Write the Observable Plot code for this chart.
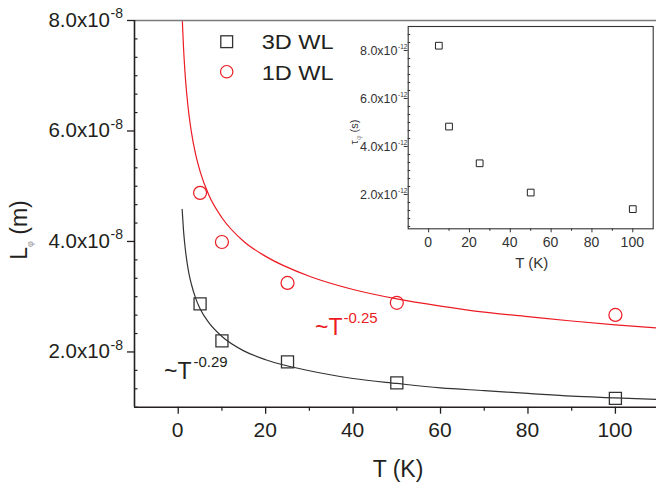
<!DOCTYPE html>
<html><head><meta charset="utf-8">
<script src="https://cdn.jsdelivr.net/npm/d3@7"></script>
<script src="https://cdn.jsdelivr.net/npm/@observablehq/plot@0.6"></script>
<style>
body{margin:0;background:#fff}
#chart{position:relative;width:656px;height:485px;font-family:"Liberation Sans",Arial,sans-serif}
#chart svg{display:block}
</style>
</head><body><div id="chart"></div>
<script>
// ---- data ----
const temps = [5, 10, 25, 50, 100];                         // T (K)
const lphi3D = [2.87e-8, 2.20e-8, 1.82e-8, 1.44e-8, 1.16e-8]; // 3D WL, L_phi (m)
const lphi1D = [4.88e-8, 3.99e-8, 3.25e-8, 2.89e-8, 2.67e-8]; // 1D WL, L_phi (m)
const tauPhi = [8.2e-12, 4.83e-12, 3.30e-12, 2.08e-12, 1.39e-12]; // inset tau_phi (s)

// fitted curves
const fitT3D = [0.9, 1.2, 1.5, 2, 2.5, 3, 4, 5, 7, 10, 15, 20, 30, 40, 50, 60, 70, 80, 90, 100, 110];
const fitL3D = [4.58, 4.21, 3.95, 3.63, 3.40, 3.23, 2.97, 2.78, 2.53, 2.28, 2.02, 1.86, 1.66, 1.52, 1.43, 1.35, 1.30, 1.25, 1.20, 1.17, 1.14].map(v => v * 1e-8);
const fitT1D = [0.95, 1.2, 1.5, 2, 2.5, 3, 4, 5, 7, 10, 15, 20, 30, 40, 50, 60, 70, 80, 90, 100, 110];
const fitL1D = [7.98, 7.53, 7.12, 6.63, 6.27, 5.99, 5.57, 5.27, 4.84, 4.43, 4.00, 3.73, 3.37, 3.13, 2.96, 2.83, 2.72, 2.64, 2.56, 2.49, 2.43].map(v => v * 1e-8);

// ticks and labels
const xMajor = [0, 20, 40, 60, 80, 100];
const xMinor = [10, 30, 50, 70, 90];
const xTickText = ["0", "20", "40", "60", "80", "100"];
const yMajor = [2e-8, 4e-8, 6e-8, 8e-8];
const yTickText = ["2.0x10", "4.0x10", "6.0x10", "8.0x10"];
const yExp = "-8";
const iyMajor = [2e-12, 4e-12, 6e-12, 8e-12];
const iyTickText = ["2.0x10", "4.0x10", "6.0x10", "8.0x10"];
const iyExp = "-12";
const seriesNames = ["3D WL", "1D WL"];
const fitLabels = [["~T", "-0.29"], ["~T", "-0.25"]];

// ---- styles ----
const RED = "#ed1c24", INK = "#231f20";
const W = 656, H = 485, mL = 134, mR = 0, mT = 20, mB = 78.3;
const xDom = [-10, 109.4], yDom = [1e-8, 8e-8];
const kx = (W - mL - mR) / (xDom[1] - xDom[0]);

const rows = (xs, ys) => xs.map((t, i) => ({t, v: ys[i]}));
const yMinor = d3.range(0, 22).map(i => 1e-8 + i * 1e-8 / 3)
  .filter(v => v < yDom[1] - 1e-12 && !yMajor.some(m => Math.abs(m - v) < 1e-12));

const main = Plot.plot({
  width: W, height: H, marginLeft: mL, marginRight: mR, marginTop: mT, marginBottom: mB,
  x: {domain: xDom}, y: {domain: yDom},
  style: {background: "white", fontFamily: "Liberation Sans, Arial, sans-serif", overflow: "visible"},
  marks: [
    Plot.ruleY([yDom[1]], {stroke: "#7a7a7a", strokeWidth: 1.3}),
    Plot.line(rows(fitT1D, fitL1D), {x: "t", y: "v", stroke: RED, strokeWidth: 1.2, curve: "monotone-x", clip: true}),
    Plot.line(rows(fitT3D, fitL3D), {x: "t", y: "v", stroke: "#333", strokeWidth: 1.2, curve: "monotone-x", clip: true}),
    Plot.dot(rows(temps, lphi3D), {x: "t", y: "v", symbol: "square", r: 6.8, stroke: "#333", strokeWidth: 1.3, fill: "none"}),
    Plot.dot(rows(temps, lphi1D), {x: "t", y: "v", symbol: "circle", r: 6.5, stroke: RED, strokeWidth: 1.2, fill: "none"}),
    Plot.axisX({ticks: xMajor, tickSize: 7, tickFormat: () => "", label: null, stroke: INK, strokeWidth: 1.3}),
    Plot.axisX({ticks: xMinor, tickSize: 4, tickFormat: () => "", label: null, stroke: INK, strokeWidth: 1.2}),
    Plot.axisY({ticks: yMajor, tickSize: 7, tickFormat: () => "", label: null, stroke: INK, strokeWidth: 1.3}),
    Plot.ruleY(yMinor, {x1: xDom[0], x2: xDom[0] + 3.5 / kx, stroke: INK, strokeWidth: 1.2}),
    Plot.ruleX([xDom[0]], {stroke: INK, strokeWidth: 1.6}),
    Plot.ruleY([yDom[0]], {stroke: INK, strokeWidth: 1.6})
  ]
});
document.getElementById("chart").appendChild(main);

const sx = main.scale("x"), sy = main.scale("y");
const g = d3.select(main).append("g").attr("fill", INK).attr("text-anchor", "start")
  .attr("font-family", "Liberation Sans, Arial, sans-serif");

// y tick labels
yMajor.forEach((v, i) => {
  const y = sy.apply(v);
  g.append("text").attr("x", 110).attr("y", y + 7).attr("text-anchor", "end").attr("font-size", 20.5).text(yTickText[i]);
  g.append("text").attr("x", 110.5).attr("y", y - 1.8).attr("text-anchor", "start").attr("font-size", 14).text(yExp);
});
// x tick labels
xMajor.forEach((v, i) => {
  g.append("text").attr("x", sx.apply(v)).attr("y", sy.apply(yDom[0]) + 30.5).attr("text-anchor", "middle").attr("font-size", 21).text(xTickText[i]);
});
// axis titles
g.append("text").attr("x", 398).attr("y", 477).attr("text-anchor", "middle").attr("font-size", 23).text("T (K)");
const yl = g.append("text").attr("transform", "translate(27,230) rotate(-90)").attr("text-anchor", "middle").attr("font-size", 23);
yl.append("tspan").text("L");
yl.append("tspan").attr("font-size", 9).attr("fill", "#999").attr("dy", 6).text("φ");
yl.append("tspan").attr("dy", -6).text(" (m)");

// legend
g.append("rect").attr("x", 226.7 - 5.9).attr("y", 41.7 - 5.9).attr("width", 11.8).attr("height", 11.8)
  .attr("fill", "none").attr("stroke", "#333").attr("stroke-width", 1.3);
g.append("circle").attr("cx", 226.7).attr("cy", 71.7).attr("r", 6.2).attr("fill", "none").attr("stroke", RED).attr("stroke-width", 1.2);
g.append("text").attr("x", 261.7).attr("y", 48.5).attr("font-size", 20).attr("textLength", 72).attr("lengthAdjust", "spacingAndGlyphs").text(seriesNames[0]);
g.append("text").attr("x", 261.7).attr("y", 79.5).attr("font-size", 20).attr("textLength", 72).attr("lengthAdjust", "spacingAndGlyphs").text(seriesNames[1]);

// fit annotations
const a1 = g.append("text").attr("x", 164).attr("y", 379).attr("font-size", 23);
a1.append("tspan").text(fitLabels[0][0]);
a1.append("tspan").attr("font-size", 15).attr("dy", -12).attr("dx", 2).text(fitLabels[0][1]);
const a2 = g.append("text").attr("x", 315).attr("y", 335).attr("font-size", 23).attr("fill", RED);
a2.append("tspan").text(fitLabels[1][0]);
a2.append("tspan").attr("font-size", 15).attr("dy", -12.5).attr("dx", 1).text(fitLabels[1][1]);

// ---- inset ----
const iW = 326, iH = 262, iL = 77.7, iR = 3.3, iT = 4, iB = 55.7;
const ixDom = [-10, 110], iyDom = [0.57e-12, 9e-12];
const ikx = (iW - iL - iR) / (ixDom[1] - ixDom[0]);
const iyMinor = d3.range(0, 28).map(i => i * 1e-12 / 3)
  .filter(v => v > iyDom[0] && v < iyDom[1] - 1e-14 && !iyMajor.some(m => Math.abs(m - v) < 1e-15));

const inset = Plot.plot({
  width: iW, height: iH, marginLeft: iL, marginRight: iR, marginTop: iT, marginBottom: iB,
  x: {domain: ixDom}, y: {domain: iyDom},
  style: {background: "transparent", overflow: "visible", fontFamily: "Liberation Sans, Arial, sans-serif"},
  marks: [
    Plot.frame({stroke: "#333", strokeWidth: 1.1, fill: "white"}),
    Plot.dot(rows(temps, tauPhi), {x: "t", y: "v", symbol: "square", r: 3.8, stroke: "#222", strokeWidth: 1, fill: "none"}),
    Plot.axisX({ticks: xMajor, tickSize: 4, tickFormat: () => "", label: null, stroke: "#333"}),
    Plot.axisX({ticks: xMinor, tickSize: 2.5, tickFormat: () => "", label: null, stroke: "#333"}),
    Plot.axisY({ticks: iyMajor, tickSize: 4, tickFormat: () => "", label: null, stroke: "#333"}),
    Plot.ruleY(iyMinor, {x1: ixDom[0], x2: ixDom[0] + 2.5 / ikx, stroke: "#333"})
  ]
});
inset.style.position = "absolute";
inset.style.left = "330px";
inset.style.top = "22px";
document.getElementById("chart").appendChild(inset);

const isx = inset.scale("x"), isy = inset.scale("y");
const ig = d3.select(inset).append("g").attr("fill", "#333").attr("text-anchor", "start")
  .attr("font-family", "Liberation Sans, Arial, sans-serif");
iyMajor.forEach((v, i) => {
  const y = isy.apply(v);
  ig.append("text").attr("x", 67.5).attr("y", y + 5).attr("text-anchor", "end").attr("font-size", 12.5).text(iyTickText[i]);
  ig.append("text").attr("x", 68).attr("y", y - 0.5).attr("text-anchor", "start").attr("font-size", 6.5).text(iyExp);
});
xMajor.forEach((v, i) => {
  ig.append("text").attr("x", isx.apply(v)).attr("y", isy.apply(iyDom[0]) + 19).attr("text-anchor", "middle").attr("font-size", 14).text(xTickText[i]);
});
ig.append("text").attr("x", 201.7).attr("y", 246).attr("text-anchor", "middle").attr("font-size", 15).text("T (K)");
const il = ig.append("text").attr("transform", "translate(28,110) rotate(-90)").attr("text-anchor", "middle").attr("font-size", 11);
il.append("tspan").text("τ");
il.append("tspan").attr("font-size", 7).attr("fill", "#999").attr("dy", 3).text("φ");
il.append("tspan").attr("dy", -3).text(" (s)");
</script>
</body></html>
